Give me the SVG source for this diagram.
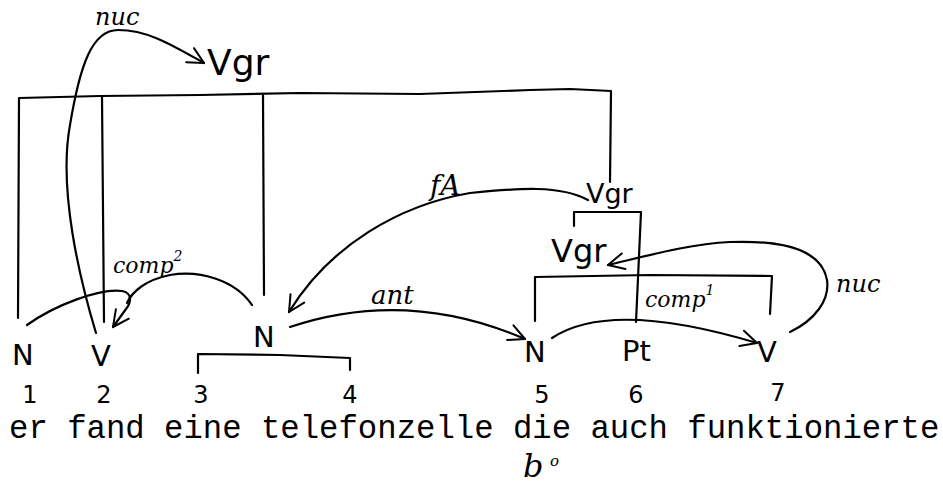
<svg xmlns="http://www.w3.org/2000/svg" width="943" height="488" viewBox="0 0 943 488">
  <defs>
    <marker id="arrow" viewBox="0 0 20 20" refX="18" refY="10" markerWidth="20" markerHeight="20" markerUnits="userSpaceOnUse" orient="auto">
      <path d="M 2 2 L 18 10 L 2 18" fill="none" stroke="#000" stroke-width="2" stroke-linecap="round" stroke-linejoin="round"/>
    </marker>
    <style>
      .ln { fill: none; stroke: #000; stroke-width: 2.2; stroke-linecap: round; stroke-linejoin: round; }
      .arc { fill: none; stroke: #000; stroke-width: 2.2; stroke-linecap: round; }
      .cat { font-family: "DejaVu Sans", "Liberation Sans", sans-serif; font-size: 29px; fill: #000; }
      .vgr { font-family: "DejaVu Sans", "Liberation Sans", sans-serif; fill: #000; }
      .num { font-family: "DejaVu Sans", "Liberation Sans", sans-serif; font-size: 24px; fill: #000; text-anchor: middle; }
      .rel { font-family: "DejaVu Serif", "Liberation Serif", serif; font-style: italic; fill: #000; }
      .sent { font-family: "Liberation Mono", "DejaVu Sans Mono", monospace; font-size: 32.3px; fill: #000; }
    </style>
  </defs>

  <!-- constituent brackets -->
  <g id="brackets">
    <path class="ln" d="M 18 318 L 19 98 L 100 96 L 200 95 L 300 93 L 420 94 L 530 90 L 570 89 L 611 91 L 610 182"/>
    <path class="ln" d="M 102 97 L 104 322"/>
    <path class="ln" d="M 263 95 L 264 295"/>
    <path class="ln" d="M 198 373 L 198 354 L 280 355 L 350 358 L 350 370"/>
    <path class="ln" d="M 574 226 L 574 212 L 641 212 L 636 322"/>
    <path class="ln" d="M 535 321 L 535 277 L 650 275 L 772 276 L 770 314"/>
  </g>

  <!-- nodes -->
  <g id="node-vgr-top"><text class="vgr" x="207" y="75" font-size="36">Vgr</text></g>
  <g id="node-vgr-mid"><text class="vgr" x="586" y="203" font-size="27">Vgr</text></g>
  <g id="node-vgr-low"><text class="vgr" x="551" y="262" font-size="32">Vgr</text></g>
  <g id="node-n1"><text class="cat" x="12" y="365">N</text></g>
  <g id="node-v2"><text class="cat" x="91" y="366">V</text></g>
  <g id="node-n34"><text class="cat" x="253" y="347">N</text></g>
  <g id="node-n5"><text class="cat" x="524" y="362">N</text></g>
  <g id="node-pt"><text class="cat" x="622" y="361">Pt</text></g>
  <g id="node-v7"><text class="cat" x="757" y="362">V</text></g>

  <!-- word positions -->
  <g id="numbers">
    <text class="num" x="30" y="403">1</text>
    <text class="num" x="104" y="403">2</text>
    <text class="num" x="201" y="403">3</text>
    <text class="num" x="350" y="403">4</text>
    <text class="num" x="542" y="403">5</text>
    <text class="num" x="636" y="403">6</text>
    <text class="num" x="778" y="401">7</text>
  </g>

  <!-- sentence -->
  <g id="sentence">
    <text class="sent" x="9" y="438">er fand eine telefonzelle die auch funktionierte</text>
    <text class="rel" x="523" y="477" font-size="32">b</text>
    <text class="rel" x="550" y="466" font-size="15">o</text>
  </g>

  <!-- relations -->
  <g id="connectors">
    <path class="arc" marker-end="url(#arrow)" d="M 96 333 C 80 280, 58 190, 70 125 C 80 65, 92 30, 118 30 C 148 30, 172 45, 204 63"/>
    <path class="arc" marker-end="url(#arrow)" d="M 27 325 C 55 305, 100 288, 122 291 C 133 293, 131 303, 126 309 L 113 327"/>
    <path class="arc" d="M 252 305 C 235 280, 200 270, 170 275 C 145 280, 132 292, 127 303"/>
    <path class="arc" marker-end="url(#arrow)" d="M 588 200 C 560 185, 520 188, 470 193 C 400 205, 330 245, 289 312"/>
    <path class="arc" marker-end="url(#arrow)" d="M 290 327 C 350 307, 430 298, 525 339"/>
    <path class="arc" marker-end="url(#arrow)" d="M 552 338 C 582 318, 640 308, 757 343"/>
    <path class="arc" marker-end="url(#arrow)" d="M 790 332 C 815 320, 830 300, 827 280 C 822 252, 790 240, 730 242 C 690 244, 650 255, 608 265"/>
  </g>

  <!-- relation labels -->
  <g id="labels">
    <text class="rel" x="95" y="25" font-size="24">nuc</text>
    <text class="rel" x="113" y="273" font-size="22">comp<tspan font-size="14" dy="-12">2</tspan></text>
    <text class="rel" x="430" y="195" font-size="28">fA</text>
    <text class="rel" x="371" y="304" font-size="26">ant</text>
    <text class="rel" x="645" y="307" font-size="22">comp<tspan font-size="14" dy="-12">1</tspan></text>
    <text class="rel" x="836" y="292" font-size="24">nuc</text>
  </g>
</svg>
